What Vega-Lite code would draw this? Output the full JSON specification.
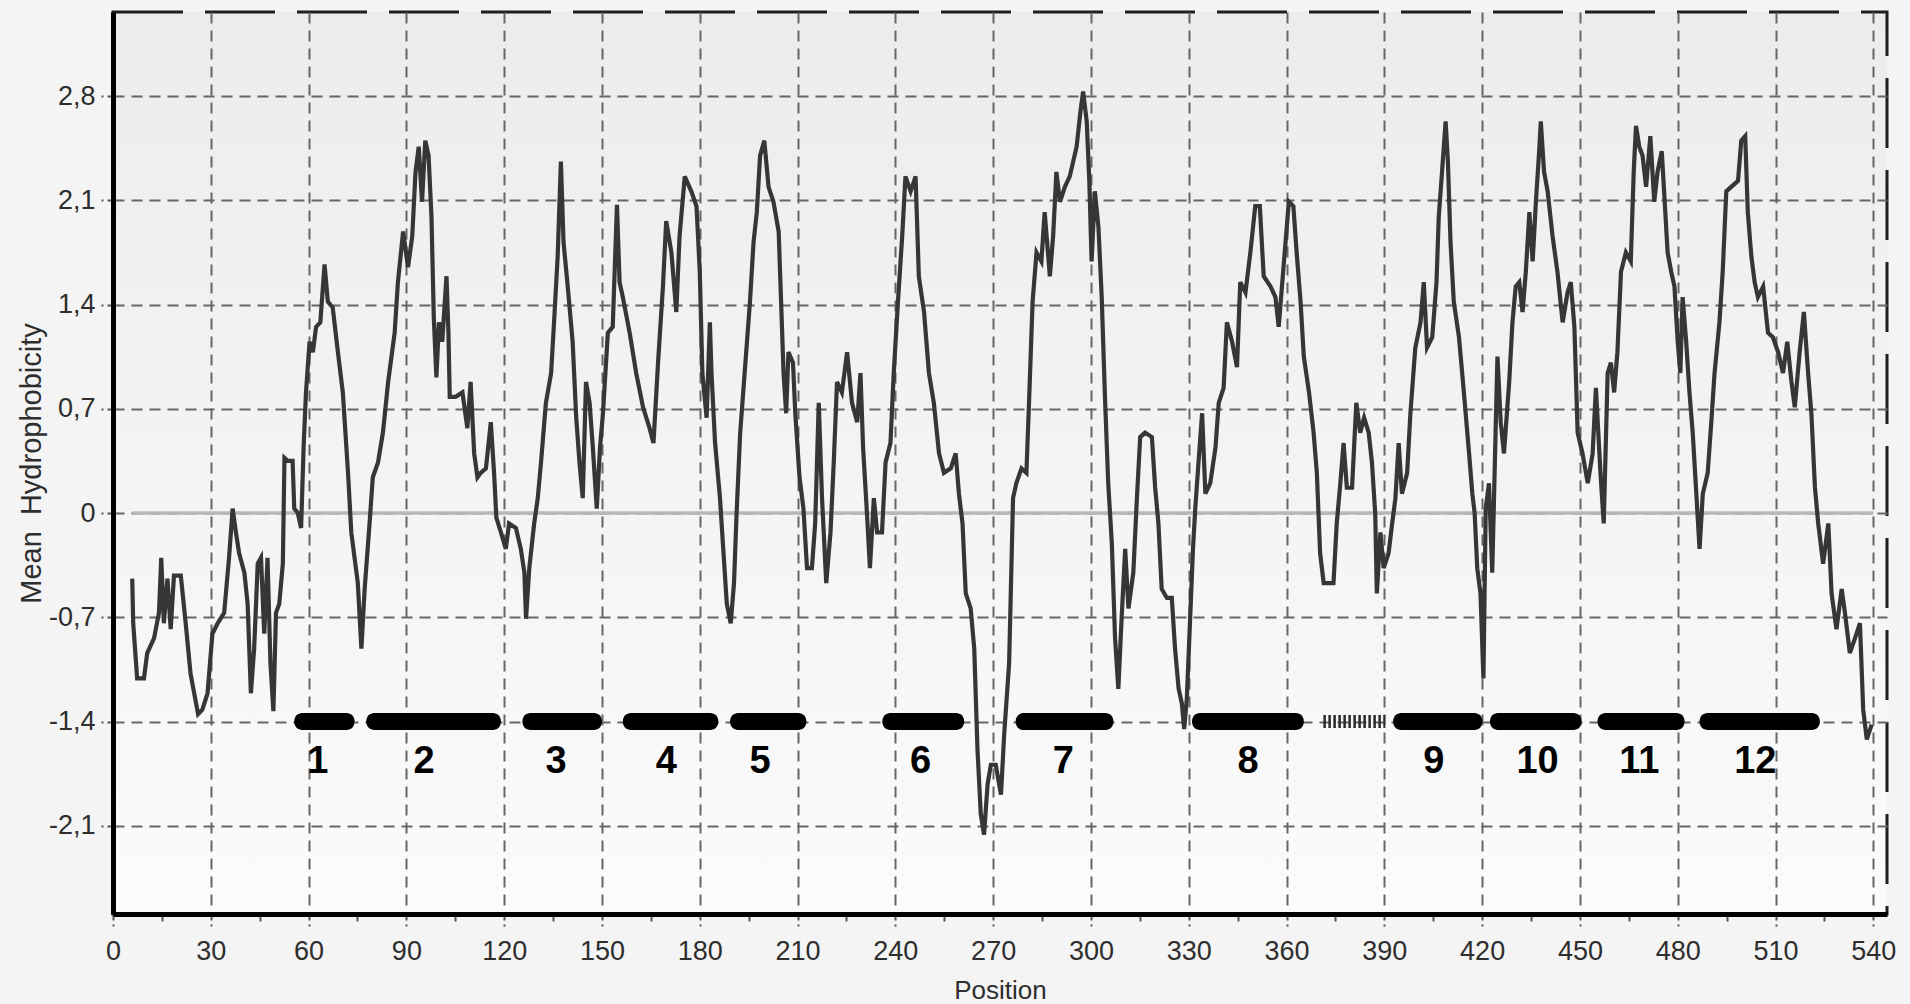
{
  "$schema": "https://vega.github.io/schema/vega-lite/v6.json",
  "width": 1774,
  "height": 902,
  "autosize": {"type": "none"},
  "padding": {"left": 113, "top": 12, "right": 23, "bottom": 90},
  "background": "#f4f4f4",
  "config": {
    "font": "Liberation Sans",
    "view": {
      "fill": {"gradient": "linear", "x1": 0, "y1": 0, "x2": 0, "y2": 1, "stops": [{"offset": 0, "color": "#ececec"}, {"offset": 1, "color": "#fbfbfb"}]},
      "stroke": "#1e1e1e",
      "strokeWidth": 3,
      "strokeDash": [70, 22]
    },
    "axis": {
      "labelFont": "Liberation Sans",
      "titleFont": "Liberation Sans",
      "labelFontSize": 27,
      "labelColor": "#2e2e2e",
      "titleFontSize": 26,
      "titleFontWeight": "normal",
      "titleColor": "#2e2e2e",
      "domainColor": "#000000",
      "domainWidth": 5,
      "gridColor": "#666666",
      "gridWidth": 2,
      "gridDash": [11, 7],
      "tickColor": "#555555",
      "tickWidth": 2,
      "labelOverlap": false,
      "labelFlush": false
    }
  },
  "datasets": {
    "profile": [
      {"pos": 5.9, "h": -0.44}, {"pos": 6.2, "h": -0.74}, {"pos": 7.4, "h": -1.11}, {"pos": 9.5, "h": -1.11}, {"pos": 10.5, "h": -0.94},
      {"pos": 12.6, "h": -0.84}, {"pos": 14.1, "h": -0.67}, {"pos": 14.8, "h": -0.3}, {"pos": 15.6, "h": -0.74}, {"pos": 16.7, "h": -0.44},
      {"pos": 17.7, "h": -0.78}, {"pos": 18.7, "h": -0.42}, {"pos": 20.8, "h": -0.42}, {"pos": 22.3, "h": -0.74}, {"pos": 23.8, "h": -1.08},
      {"pos": 26.1, "h": -1.35}, {"pos": 27.4, "h": -1.32}, {"pos": 29.0, "h": -1.21}, {"pos": 30.5, "h": -0.81}, {"pos": 32.1, "h": -0.74},
      {"pos": 34.1, "h": -0.67}, {"pos": 35.6, "h": -0.3}, {"pos": 36.7, "h": 0.03}, {"pos": 37.7, "h": -0.13}, {"pos": 38.7, "h": -0.27},
      {"pos": 40.3, "h": -0.4}, {"pos": 41.3, "h": -0.61}, {"pos": 42.3, "h": -1.21}, {"pos": 43.3, "h": -0.91}, {"pos": 44.4, "h": -0.34},
      {"pos": 45.4, "h": -0.3}, {"pos": 46.4, "h": -0.81}, {"pos": 47.4, "h": -0.3}, {"pos": 48.3, "h": -1.01}, {"pos": 49.2, "h": -1.33},
      {"pos": 50.0, "h": -0.67}, {"pos": 51.0, "h": -0.61}, {"pos": 52.1, "h": -0.34}, {"pos": 52.6, "h": 0.37}, {"pos": 53.6, "h": 0.35},
      {"pos": 55.1, "h": 0.35}, {"pos": 55.6, "h": 0.03}, {"pos": 56.7, "h": 0.0}, {"pos": 57.7, "h": -0.1}, {"pos": 58.5, "h": 0.46},
      {"pos": 59.2, "h": 0.81}, {"pos": 60.3, "h": 1.15}, {"pos": 61.3, "h": 1.08}, {"pos": 62.3, "h": 1.25}, {"pos": 63.6, "h": 1.28},
      {"pos": 64.9, "h": 1.67}, {"pos": 65.9, "h": 1.42}, {"pos": 67.4, "h": 1.38}, {"pos": 69.0, "h": 1.08}, {"pos": 70.5, "h": 0.81},
      {"pos": 72.1, "h": 0.27}, {"pos": 73.1, "h": -0.13}, {"pos": 75.1, "h": -0.47}, {"pos": 76.2, "h": -0.91}, {"pos": 77.2, "h": -0.51},
      {"pos": 78.7, "h": -0.07}, {"pos": 79.7, "h": 0.24}, {"pos": 81.3, "h": 0.34}, {"pos": 82.8, "h": 0.54}, {"pos": 84.4, "h": 0.88},
      {"pos": 86.4, "h": 1.21}, {"pos": 87.4, "h": 1.55}, {"pos": 89.0, "h": 1.89}, {"pos": 90.5, "h": 1.65}, {"pos": 91.8, "h": 1.86},
      {"pos": 92.8, "h": 2.29}, {"pos": 93.8, "h": 2.46}, {"pos": 94.8, "h": 2.09}, {"pos": 95.8, "h": 2.5}, {"pos": 96.8, "h": 2.4},
      {"pos": 97.7, "h": 1.99}, {"pos": 98.4, "h": 1.32}, {"pos": 99.2, "h": 0.91}, {"pos": 100.0, "h": 1.28}, {"pos": 101.0, "h": 1.15},
      {"pos": 102.3, "h": 1.59}, {"pos": 102.9, "h": 1.21}, {"pos": 103.3, "h": 0.78}, {"pos": 105.1, "h": 0.78}, {"pos": 107.2, "h": 0.81},
      {"pos": 108.7, "h": 0.57}, {"pos": 109.7, "h": 0.88}, {"pos": 110.8, "h": 0.4}, {"pos": 111.8, "h": 0.24}, {"pos": 112.8, "h": 0.27},
      {"pos": 114.4, "h": 0.3}, {"pos": 115.9, "h": 0.61}, {"pos": 116.9, "h": 0.27}, {"pos": 117.6, "h": -0.03}, {"pos": 119.0, "h": -0.13},
      {"pos": 120.5, "h": -0.24}, {"pos": 121.5, "h": -0.07}, {"pos": 123.6, "h": -0.1}, {"pos": 125.1, "h": -0.24}, {"pos": 126.2, "h": -0.4},
      {"pos": 126.7, "h": -0.71}, {"pos": 127.7, "h": -0.37}, {"pos": 129.2, "h": -0.07}, {"pos": 130.3, "h": 0.1}, {"pos": 131.3, "h": 0.34},
      {"pos": 132.8, "h": 0.74}, {"pos": 134.4, "h": 0.94}, {"pos": 135.4, "h": 1.32}, {"pos": 136.4, "h": 1.72}, {"pos": 137.4, "h": 2.36},
      {"pos": 138.2, "h": 1.82}, {"pos": 139.5, "h": 1.52}, {"pos": 141.0, "h": 1.15}, {"pos": 142.1, "h": 0.64}, {"pos": 143.1, "h": 0.34},
      {"pos": 144.1, "h": 0.1}, {"pos": 145.1, "h": 0.88}, {"pos": 146.2, "h": 0.74}, {"pos": 147.2, "h": 0.44}, {"pos": 148.4, "h": 0.03},
      {"pos": 149.4, "h": 0.44}, {"pos": 150.3, "h": 0.67}, {"pos": 151.8, "h": 1.21}, {"pos": 153.3, "h": 1.25}, {"pos": 154.6, "h": 2.07},
      {"pos": 155.4, "h": 1.55}, {"pos": 156.4, "h": 1.45}, {"pos": 158.5, "h": 1.21}, {"pos": 160.5, "h": 0.94}, {"pos": 162.6, "h": 0.71},
      {"pos": 164.6, "h": 0.57}, {"pos": 165.8, "h": 0.47}, {"pos": 167.2, "h": 1.01}, {"pos": 168.7, "h": 1.52}, {"pos": 169.7, "h": 1.96},
      {"pos": 171.3, "h": 1.75}, {"pos": 172.8, "h": 1.35}, {"pos": 173.8, "h": 1.86}, {"pos": 175.4, "h": 2.26}, {"pos": 177.4, "h": 2.16},
      {"pos": 179.0, "h": 2.06}, {"pos": 180.0, "h": 1.62}, {"pos": 180.8, "h": 0.94}, {"pos": 182.1, "h": 0.64}, {"pos": 183.1, "h": 1.28},
      {"pos": 183.6, "h": 0.94}, {"pos": 184.7, "h": 0.47}, {"pos": 186.2, "h": 0.1}, {"pos": 187.2, "h": -0.24}, {"pos": 188.3, "h": -0.61},
      {"pos": 189.5, "h": -0.74}, {"pos": 190.5, "h": -0.47}, {"pos": 191.3, "h": 0.0}, {"pos": 192.4, "h": 0.54}, {"pos": 193.9, "h": 0.98},
      {"pos": 195.4, "h": 1.42}, {"pos": 196.5, "h": 1.82}, {"pos": 197.5, "h": 2.02}, {"pos": 198.5, "h": 2.4}, {"pos": 199.8, "h": 2.5},
      {"pos": 201.1, "h": 2.19}, {"pos": 202.6, "h": 2.09}, {"pos": 204.2, "h": 1.89}, {"pos": 204.9, "h": 1.45}, {"pos": 205.7, "h": 0.94},
      {"pos": 206.5, "h": 0.67}, {"pos": 207.2, "h": 1.08}, {"pos": 208.6, "h": 1.01}, {"pos": 209.3, "h": 0.67}, {"pos": 210.6, "h": 0.24},
      {"pos": 211.8, "h": 0.03}, {"pos": 212.9, "h": -0.37}, {"pos": 214.4, "h": -0.37}, {"pos": 215.4, "h": -0.07}, {"pos": 216.5, "h": 0.74},
      {"pos": 217.5, "h": 0.1}, {"pos": 218.8, "h": -0.47}, {"pos": 220.1, "h": -0.13}, {"pos": 221.1, "h": 0.34}, {"pos": 222.1, "h": 0.88},
      {"pos": 223.6, "h": 0.81}, {"pos": 225.2, "h": 1.08}, {"pos": 226.7, "h": 0.74}, {"pos": 228.3, "h": 0.61}, {"pos": 229.3, "h": 0.94},
      {"pos": 230.1, "h": 0.44}, {"pos": 231.1, "h": 0.07}, {"pos": 232.2, "h": -0.37}, {"pos": 233.4, "h": 0.1}, {"pos": 234.4, "h": -0.13},
      {"pos": 235.9, "h": -0.13}, {"pos": 237.0, "h": 0.34}, {"pos": 238.5, "h": 0.47}, {"pos": 239.5, "h": 0.94}, {"pos": 240.8, "h": 1.42},
      {"pos": 242.1, "h": 1.86}, {"pos": 243.1, "h": 2.26}, {"pos": 244.7, "h": 2.16}, {"pos": 246.2, "h": 2.26}, {"pos": 247.2, "h": 1.59},
      {"pos": 248.8, "h": 1.35}, {"pos": 250.3, "h": 0.94}, {"pos": 251.8, "h": 0.74}, {"pos": 253.4, "h": 0.4}, {"pos": 254.9, "h": 0.27},
      {"pos": 257.0, "h": 0.3}, {"pos": 258.5, "h": 0.4}, {"pos": 259.5, "h": 0.13}, {"pos": 260.6, "h": -0.07}, {"pos": 261.6, "h": -0.54},
      {"pos": 263.1, "h": -0.64}, {"pos": 264.2, "h": -0.91}, {"pos": 265.2, "h": -1.59}, {"pos": 266.2, "h": -2.02}, {"pos": 267.2, "h": -2.16},
      {"pos": 268.3, "h": -1.82}, {"pos": 269.3, "h": -1.69}, {"pos": 270.8, "h": -1.69}, {"pos": 272.4, "h": -1.89}, {"pos": 273.4, "h": -1.48},
      {"pos": 274.9, "h": -1.01}, {"pos": 276.1, "h": 0.1}, {"pos": 277.1, "h": 0.2}, {"pos": 278.7, "h": 0.3}, {"pos": 280.2, "h": 0.27},
      {"pos": 281.0, "h": 0.74}, {"pos": 282.1, "h": 1.42}, {"pos": 283.3, "h": 1.75}, {"pos": 284.8, "h": 1.69}, {"pos": 285.8, "h": 2.02},
      {"pos": 287.4, "h": 1.59}, {"pos": 288.4, "h": 1.86}, {"pos": 289.4, "h": 2.29}, {"pos": 290.5, "h": 2.09}, {"pos": 292.0, "h": 2.19},
      {"pos": 293.5, "h": 2.26}, {"pos": 295.6, "h": 2.46}, {"pos": 296.8, "h": 2.7}, {"pos": 297.6, "h": 2.83}, {"pos": 298.7, "h": 2.63},
      {"pos": 299.5, "h": 2.23}, {"pos": 300.2, "h": 1.69}, {"pos": 301.2, "h": 2.16}, {"pos": 302.3, "h": 1.92}, {"pos": 303.3, "h": 1.45},
      {"pos": 304.3, "h": 0.78}, {"pos": 305.3, "h": 0.2}, {"pos": 306.4, "h": -0.2}, {"pos": 307.4, "h": -0.84}, {"pos": 308.4, "h": -1.18},
      {"pos": 309.4, "h": -0.71}, {"pos": 310.5, "h": -0.24}, {"pos": 311.5, "h": -0.64}, {"pos": 313.0, "h": -0.4}, {"pos": 314.1, "h": 0.1},
      {"pos": 315.1, "h": 0.51}, {"pos": 316.6, "h": 0.54}, {"pos": 318.7, "h": 0.51}, {"pos": 319.7, "h": 0.17}, {"pos": 320.7, "h": -0.07},
      {"pos": 321.7, "h": -0.51}, {"pos": 323.3, "h": -0.57}, {"pos": 324.8, "h": -0.57}, {"pos": 325.8, "h": -0.91}, {"pos": 326.9, "h": -1.18},
      {"pos": 327.9, "h": -1.28}, {"pos": 328.6, "h": -1.45}, {"pos": 329.4, "h": -1.25}, {"pos": 330.5, "h": -0.67}, {"pos": 331.3, "h": -0.24},
      {"pos": 332.0, "h": 0.03}, {"pos": 333.0, "h": 0.34}, {"pos": 334.1, "h": 0.67}, {"pos": 335.1, "h": 0.13}, {"pos": 336.6, "h": 0.2},
      {"pos": 338.2, "h": 0.44}, {"pos": 339.2, "h": 0.74}, {"pos": 340.7, "h": 0.84}, {"pos": 341.7, "h": 1.28}, {"pos": 343.3, "h": 1.15},
      {"pos": 344.8, "h": 0.98}, {"pos": 345.8, "h": 1.55}, {"pos": 347.4, "h": 1.48}, {"pos": 348.9, "h": 1.75}, {"pos": 350.4, "h": 2.06},
      {"pos": 351.8, "h": 2.06}, {"pos": 353.0, "h": 1.59}, {"pos": 355.1, "h": 1.52}, {"pos": 356.6, "h": 1.45}, {"pos": 357.6, "h": 1.25},
      {"pos": 358.7, "h": 1.55}, {"pos": 359.7, "h": 1.82}, {"pos": 360.7, "h": 2.09}, {"pos": 362.1, "h": 2.06}, {"pos": 363.1, "h": 1.75},
      {"pos": 364.3, "h": 1.42}, {"pos": 365.3, "h": 1.05}, {"pos": 366.9, "h": 0.81}, {"pos": 368.3, "h": 0.54}, {"pos": 369.3, "h": 0.27},
      {"pos": 370.3, "h": -0.27}, {"pos": 371.4, "h": -0.47}, {"pos": 372.9, "h": -0.47}, {"pos": 374.4, "h": -0.47}, {"pos": 375.4, "h": -0.07},
      {"pos": 376.5, "h": 0.2}, {"pos": 377.5, "h": 0.47}, {"pos": 378.5, "h": 0.17}, {"pos": 380.1, "h": 0.17}, {"pos": 381.4, "h": 0.74},
      {"pos": 382.6, "h": 0.54}, {"pos": 383.8, "h": 0.64}, {"pos": 385.2, "h": 0.54}, {"pos": 386.2, "h": 0.34}, {"pos": 387.2, "h": 0.0},
      {"pos": 387.7, "h": -0.54}, {"pos": 388.8, "h": -0.13}, {"pos": 389.8, "h": -0.37}, {"pos": 391.3, "h": -0.27}, {"pos": 392.4, "h": -0.07},
      {"pos": 393.4, "h": 0.1}, {"pos": 394.4, "h": 0.47}, {"pos": 395.4, "h": 0.13}, {"pos": 397.0, "h": 0.27}, {"pos": 398.0, "h": 0.67},
      {"pos": 399.5, "h": 1.11}, {"pos": 401.1, "h": 1.28}, {"pos": 402.1, "h": 1.55}, {"pos": 403.1, "h": 1.11}, {"pos": 404.7, "h": 1.18},
      {"pos": 406.0, "h": 1.55}, {"pos": 406.7, "h": 1.99}, {"pos": 407.7, "h": 2.29}, {"pos": 408.8, "h": 2.63}, {"pos": 409.5, "h": 2.36},
      {"pos": 410.3, "h": 1.82}, {"pos": 411.3, "h": 1.42}, {"pos": 412.9, "h": 1.18}, {"pos": 414.4, "h": 0.81}, {"pos": 416.0, "h": 0.4},
      {"pos": 417.0, "h": 0.13}, {"pos": 417.7, "h": 0.0}, {"pos": 418.5, "h": -0.37}, {"pos": 419.5, "h": -0.54}, {"pos": 420.4, "h": -1.11},
      {"pos": 421.1, "h": 0.03}, {"pos": 422.1, "h": 0.2}, {"pos": 423.1, "h": -0.4}, {"pos": 424.2, "h": 0.61}, {"pos": 424.7, "h": 1.05},
      {"pos": 425.7, "h": 0.61}, {"pos": 426.7, "h": 0.4}, {"pos": 428.3, "h": 0.88}, {"pos": 429.3, "h": 1.28}, {"pos": 430.3, "h": 1.52},
      {"pos": 431.4, "h": 1.55}, {"pos": 432.4, "h": 1.35}, {"pos": 433.4, "h": 1.62}, {"pos": 434.5, "h": 2.02}, {"pos": 435.5, "h": 1.69},
      {"pos": 436.5, "h": 2.09}, {"pos": 437.5, "h": 2.43}, {"pos": 438.0, "h": 2.63}, {"pos": 439.0, "h": 2.29}, {"pos": 440.1, "h": 2.16},
      {"pos": 441.6, "h": 1.86}, {"pos": 443.1, "h": 1.62}, {"pos": 444.7, "h": 1.28}, {"pos": 446.2, "h": 1.48}, {"pos": 447.2, "h": 1.55},
      {"pos": 448.3, "h": 1.25}, {"pos": 449.3, "h": 0.54}, {"pos": 450.8, "h": 0.4}, {"pos": 452.4, "h": 0.2}, {"pos": 453.9, "h": 0.4},
      {"pos": 454.9, "h": 0.84}, {"pos": 456.3, "h": 0.27}, {"pos": 457.3, "h": -0.07}, {"pos": 458.5, "h": 0.94}, {"pos": 459.5, "h": 1.01},
      {"pos": 460.5, "h": 0.81}, {"pos": 461.5, "h": 1.08}, {"pos": 462.6, "h": 1.62}, {"pos": 464.1, "h": 1.75}, {"pos": 465.6, "h": 1.69},
      {"pos": 466.5, "h": 2.29}, {"pos": 467.2, "h": 2.6}, {"pos": 468.2, "h": 2.46}, {"pos": 469.2, "h": 2.4}, {"pos": 470.3, "h": 2.19},
      {"pos": 471.6, "h": 2.53}, {"pos": 472.8, "h": 2.09}, {"pos": 473.8, "h": 2.29}, {"pos": 475.1, "h": 2.43}, {"pos": 475.9, "h": 2.13},
      {"pos": 476.9, "h": 1.75}, {"pos": 478.0, "h": 1.62}, {"pos": 479.0, "h": 1.52}, {"pos": 480.0, "h": 1.15}, {"pos": 480.8, "h": 0.94},
      {"pos": 481.5, "h": 1.45}, {"pos": 482.6, "h": 1.15}, {"pos": 483.6, "h": 0.81}, {"pos": 484.6, "h": 0.54}, {"pos": 485.6, "h": 0.17},
      {"pos": 486.7, "h": -0.24}, {"pos": 487.7, "h": 0.13}, {"pos": 489.2, "h": 0.27}, {"pos": 490.3, "h": 0.61}, {"pos": 491.3, "h": 0.94},
      {"pos": 492.8, "h": 1.28}, {"pos": 493.8, "h": 1.62}, {"pos": 494.9, "h": 2.16}, {"pos": 496.4, "h": 2.19}, {"pos": 498.5, "h": 2.23},
      {"pos": 499.5, "h": 2.5}, {"pos": 500.7, "h": 2.53}, {"pos": 501.5, "h": 2.02}, {"pos": 502.6, "h": 1.72}, {"pos": 503.6, "h": 1.55},
      {"pos": 504.6, "h": 1.45}, {"pos": 506.2, "h": 1.52}, {"pos": 507.7, "h": 1.21}, {"pos": 509.2, "h": 1.18}, {"pos": 510.8, "h": 1.08},
      {"pos": 512.3, "h": 0.94}, {"pos": 513.6, "h": 1.15}, {"pos": 514.9, "h": 0.88}, {"pos": 515.9, "h": 0.71}, {"pos": 517.4, "h": 1.08},
      {"pos": 518.7, "h": 1.35}, {"pos": 520.0, "h": 0.94}, {"pos": 521.0, "h": 0.67}, {"pos": 522.1, "h": 0.17}, {"pos": 523.1, "h": -0.07},
      {"pos": 524.6, "h": -0.34}, {"pos": 526.2, "h": -0.07}, {"pos": 527.2, "h": -0.54}, {"pos": 528.7, "h": -0.78}, {"pos": 530.3, "h": -0.51},
      {"pos": 531.3, "h": -0.67}, {"pos": 532.8, "h": -0.94}, {"pos": 534.4, "h": -0.84}, {"pos": 535.9, "h": -0.74}, {"pos": 536.9, "h": -1.32},
      {"pos": 538.0, "h": -1.52}, {"pos": 539.5, "h": -1.42}
    ],
    "segments": [
      {"tm": "1", "start": 55.6, "end": 74.1, "lx": 62.8},
      {"tm": "2", "start": 77.7, "end": 119.0, "lx": 95.4},
      {"tm": "3", "start": 125.6, "end": 150.0, "lx": 135.9},
      {"tm": "4", "start": 156.4, "end": 185.7, "lx": 169.7},
      {"tm": "5", "start": 189.3, "end": 212.7, "lx": 198.5},
      {"tm": "6", "start": 236.0, "end": 261.1, "lx": 247.7},
      {"tm": "7", "start": 276.9, "end": 306.9, "lx": 291.5},
      {"tm": "8", "start": 331.0, "end": 365.3, "lx": 348.2},
      {"tm": "9", "start": 392.7, "end": 420.1, "lx": 405.2},
      {"tm": "10", "start": 422.4, "end": 450.5, "lx": 437.0},
      {"tm": "11", "start": 455.4, "end": 482.1, "lx": 468.2},
      {"tm": "12", "start": 486.7, "end": 523.6, "lx": 503.8}
    ],
    "hatched": [{"start": 371.3, "end": 390.3}],
    "zero": [{"x": 6, "x2": 540, "y": 0}]
  },
  "layer": [
    {
      "data": {"name": "zero"},
      "mark": {"type": "rule", "color": "#b8b8b8", "strokeWidth": 3.5},
      "encoding": {
        "x": {"field": "x", "type": "quantitative", "scale": {"domain": [0, 544.2], "nice": false, "zero": false},
          "title": "Position",
          "axis": {
            "values": [0, 7.5, 15, 22.5, 30, 37.5, 45, 52.5, 60, 67.5, 75, 82.5, 90, 97.5, 105, 112.5, 120, 127.5, 135, 142.5, 150, 157.5, 165, 172.5, 180, 187.5, 195, 202.5, 210, 217.5, 225, 232.5, 240, 247.5, 255, 262.5, 270, 277.5, 285, 292.5, 300, 307.5, 315, 322.5, 330, 337.5, 345, 352.5, 360, 367.5, 375, 382.5, 390, 397.5, 405, 412.5, 420, 427.5, 435, 442.5, 450, 457.5, 465, 472.5, 480, 487.5, 495, 502.5, 510, 517.5, 525, 532.5, 540],
            "labelExpr": "datum.value % 30 === 0 ? format(datum.value, 'd') : ''",
            "gridOpacity": {"condition": {"test": "datum.value % 30 === 0", "value": 1}, "value": 0},
            "tickSize": {"condition": {"test": "datum.value % 30 === 0", "value": 12}, "value": 7},
            "tickDash": {"condition": {"test": "datum.value % 30 === 0", "value": [6, 4]}, "value": []},
            "labelPadding": 12,
            "titleX": 887,
            "titleY": 84,
            "titleBaseline": "alphabetic",
            "titleAlign": "center"
          }
        },
        "x2": {"field": "x2"},
        "y": {"field": "y", "type": "quantitative", "scale": {"domain": [-2.692, 3.364], "nice": false, "zero": false},
          "title": "Mean\u00a0 Hydrophobicity",
          "axis": {
            "values": [-2.1, -1.4, -0.7, 0, 0.7, 1.4, 2.1, 2.8],
            "labelExpr": "datum.value === 0 ? '0' : (datum.value < 0 ? '-' : '') + replace(format(abs(datum.value), '.1f'), '.', ',')",
            "tickSize": 12,
            "tickDash": [6, 4],
            "labelPadding": 6,
            "titleFontSize": 29,
            "titleX": -82,
            "titleY": 451,
            "titleAngle": -90,
            "titleBaseline": "middle",
            "titleAlign": "center"
          }
        }
      }
    },
    {
      "data": {"name": "profile"},
      "mark": {"type": "line", "color": "#363636", "strokeWidth": 4.2, "strokeJoin": "miter"},
      "encoding": {
        "x": {"field": "pos", "type": "quantitative"},
        "y": {"field": "h", "type": "quantitative"}
      }
    },
    {
      "data": {"name": "segments"},
      "mark": {"type": "rect", "color": "#000000", "cornerRadius": 8},
      "encoding": {
        "x": {"field": "start", "type": "quantitative"},
        "x2": {"field": "end"},
        "y": {"datum": -1.343, "type": "quantitative"},
        "y2": {"datum": -1.457}
      }
    },
    {
      "data": {"name": "hatched"},
      "mark": {"type": "rule", "color": "#2a2a2a", "strokeWidth": 13, "strokeDash": [2.5, 2.5]},
      "encoding": {
        "x": {"field": "start", "type": "quantitative"},
        "x2": {"field": "end"},
        "y": {"datum": -1.4, "type": "quantitative"}
      }
    },
    {
      "data": {"name": "segments"},
      "mark": {"type": "text", "font": "Liberation Sans", "fontSize": 38, "fontWeight": "bold", "color": "#000000", "align": "center", "baseline": "alphabetic"},
      "encoding": {
        "x": {"field": "lx", "type": "quantitative"},
        "y": {"datum": -1.743, "type": "quantitative"},
        "text": {"field": "tm"}
      }
    }
  ]
}
